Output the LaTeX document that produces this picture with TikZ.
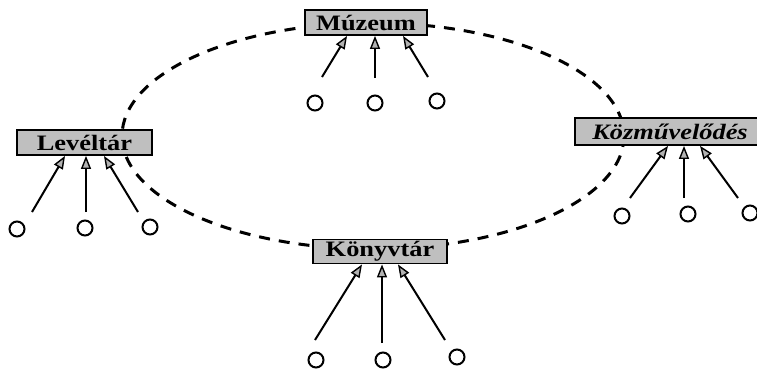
\documentclass[tikz,border=0pt]{standalone}
\usepackage{fontspec}
\setmainfont{Liberation Serif}[FakeStretch=1.2]
\usetikzlibrary{arrows.meta}
\begin{document}
\begin{tikzpicture}[x=1pt,y=-1pt,
  inst/.style={draw=black,line width=1.8pt,fill=gray!50,inner sep=2pt,minimum height=25pt,font=\fontsize{22}{22}\selectfont\bfseries},
  src/.style={circle,draw=black,line width=2pt,minimum size=15pt,inner sep=0pt},
  feed/.style={line width=2pt,-{Triangle[length=13pt,width=10pt,fill=gray!60,line width=1.4pt]}},
  link/.style={line width=3pt,dash pattern=on 11pt off 9pt}]
\useasboundingbox (0,0) rectangle (757,376);
% dashed ring
\draw[link] (373,136) ellipse [x radius=251, y radius=113];
% institutions
\node[inst,minimum width=122pt] (muz) at (366,22.5) {Múzeum};
\node[inst,minimum width=135pt] (lev) at (84.5,142.5) {Levéltár};
\node[inst,minimum width=190pt,minimum height=27pt,font=\fontsize{22}{22}\selectfont\bfseries\itshape] (koz) at (670,131.5) {Közművelődés};
\node[inst,minimum width=134pt,minimum height=23pt] (kon) at (380,251.5) {Könyvtár};
% Múzeum sources
\node[src] (m1) at (315,103) {};
\node[src] (m2) at (375,103) {};
\node[src] (m3) at (437,101) {};
\coordinate (ma) at (322,77);
\coordinate (mb) at (375,78);
\coordinate (mc) at (428,77);
\draw[feed] (ma) -- (muz.south west -| 347,0);
\draw[feed] (mb) -- (muz.south west -| 375,0);
\draw[feed] (mc) -- (muz.south west -| 403,0);
% Levéltár sources
\node[src] (l1) at (17,229) {};
\node[src] (l2) at (85,228) {};
\node[src] (l3) at (150,227) {};
\coordinate (la) at (32,212);
\coordinate (lb) at (86,212);
\coordinate (lc) at (138,212);
\draw[feed] (la) -- (lev.south west -| 65,0);
\draw[feed] (lb) -- (lev.south west -| 86,0);
\draw[feed] (lc) -- (lev.south west -| 104,0);
% Közművelődés sources
\node[src] (k1) at (622,216) {};
\node[src] (k2) at (688,214) {};
\node[src] (k3) at (750,213) {};
\coordinate (ka) at (630,198);
\coordinate (kb) at (684,198);
\coordinate (kc) at (738,198);
\draw[feed] (ka) -- (koz.south west -| 668,0);
\draw[feed] (kb) -- (koz.south west -| 684,0);
\draw[feed] (kc) -- (koz.south west -| 700,0);
% Könyvtár sources
\node[src] (b1) at (316,360) {};
\node[src] (b2) at (383,360) {};
\node[src] (b3) at (457,357) {};
\coordinate (ba) at (315,340);
\coordinate (bb) at (382,343);
\coordinate (bc) at (445,340);
\draw[feed] (ba) -- (kon.south west -| 362,0);
\draw[feed] (bb) -- (kon.south west -| 382,0);
\draw[feed] (bc) -- (kon.south west -| 398,0);
\end{tikzpicture}
\end{document}
